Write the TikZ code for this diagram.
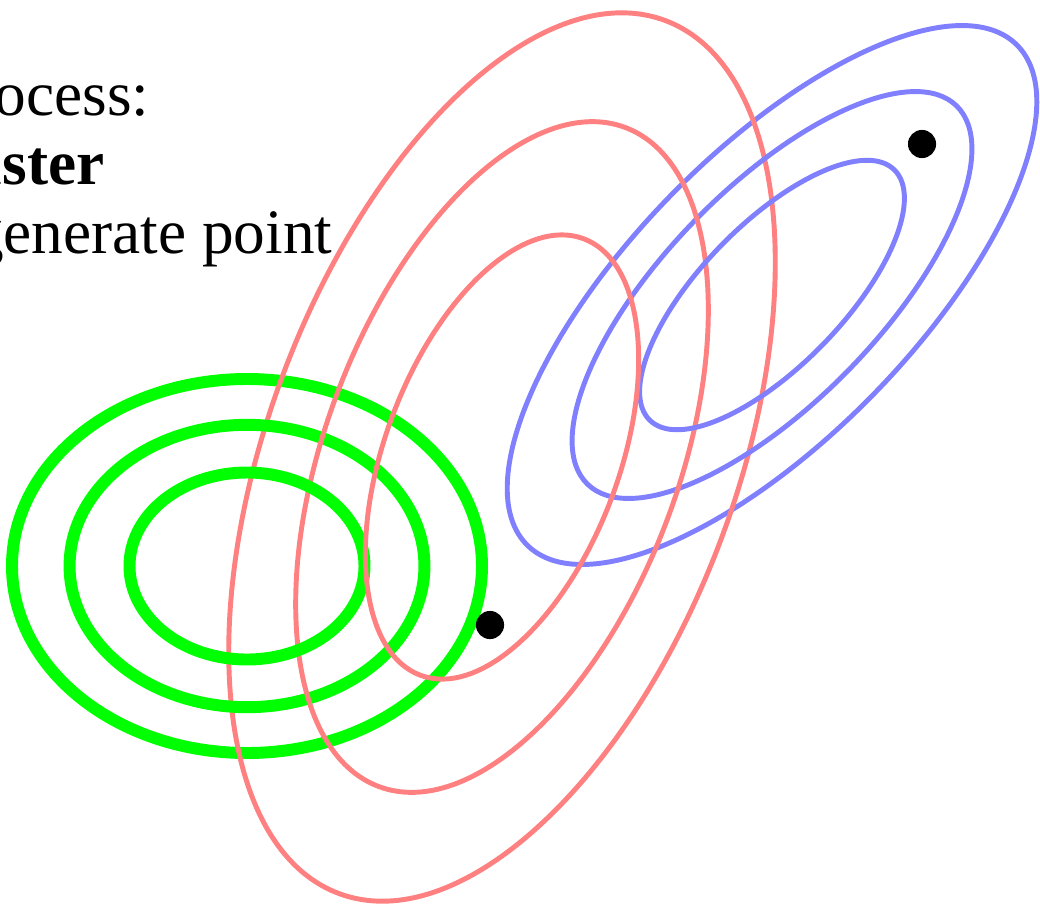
\documentclass[tikz,border=0pt]{standalone}
\usepackage{fontspec}
\setmainfont{Liberation Serif}
\usepackage{tikz}
\usetikzlibrary{positioning}

\definecolor{gcol}{HTML}{00FF00}
\definecolor{rcol}{HTML}{FF8080}
\definecolor{bcol}{HTML}{8080FF}

\begin{document}
\begin{tikzpicture}[
  x=0.01cm, y=0.01cm, font=\fontsize{18}{21.6}\selectfont,
  gc/.style={draw=gcol, line width=3.4pt},
  rc/.style={draw=rcol, line width=1.4pt},
  bc/.style={draw=bcol, line width=1.4pt},
  dt/.style={circle, fill=black, inner sep=0pt, minimum size=8pt},
  tx/.style={anchor=base east, inner sep=0pt}]
\useasboundingbox (0,0) rectangle (1040,-903);
\clip (0,0) rectangle (1040,-903);
% text, cut at the left edge
\node[tx] (l1) at (150,-115) {process:};
\node[tx] (l2) at (105,-184) {\textbf{cluster}};
\node[tx] (l3) at (333,-253) {generate point};
% contours of the three clusters
\foreach \s in {1,0.755,0.5}{
  \draw[gc] (247,-566) ellipse [x radius=235*\s, y radius=187*\s];
  \draw[bc, shift={(772,-295)}, rotate=45.7] (0,0) ellipse [x radius=350*\s, y radius=142*\s];
  \draw[rc, shift={(502,-457)}, rotate=69.5] (0,0) ellipse [x radius=466*\s, y radius=234*\s];
}
% sampled points
\node[dt] (p1) at (490,-625) {};
\node[dt] (p2) at (922,-144) {};
\end{tikzpicture}
\end{document}
